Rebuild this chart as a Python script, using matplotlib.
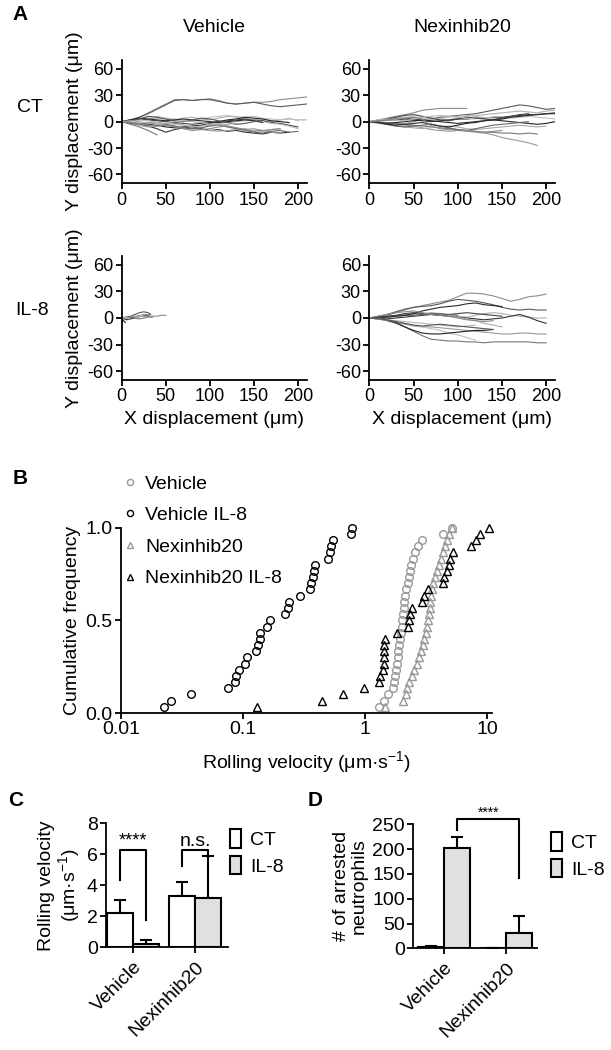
import matplotlib
matplotlib.use("Agg")
import matplotlib.pyplot as plt
import numpy as np
from matplotlib.patches import Patch

plt.rcParams['font.family'] = ['Liberation Sans', 'DejaVu Sans']
plt.rcParams['mathtext.fontset'] = 'custom'
plt.rcParams['mathtext.rm'] = 'Liberation Sans'
plt.rcParams['mathtext.it'] = 'Liberation Sans:italic'
plt.rcParams['axes.unicode_minus'] = False

# ---- panel A: cell tracks, y displacement sampled every 10 um of x ----
x_grid = [0, 10, 20, 30, 40, 50, 60, 70, 80, 90, 100,
          110, 120, 130, 140, 150, 160, 170, 180, 190, 200, 210]

veh_ct = [
    [0, 2, 5, 10, 15, 20, 25, 25, 24, 25, 26, 24, 21, 20, 21, 22, 22, 23, 25, 26, 27, 28],
    [0, 2, 5, 9, 14, 19, 24, 25, 24, 25, 25, 23, 21, 20, 21, 22, 20, 18, 17, 18, 19, 20],
    [0, 1, 2, 3, 4, 3, 2, 4, 5, 3, 2, 4, 6, 5, 3, 2, 1, 0, 2, 3, 2, 2],
    [0, -1, -3, -5, -8, -12, -9, -7, -6, -8, -10, -9, -11, -10, -12, -13, -14, -12, -13, -12],
    [0, -2, -4, -6, -5, -3, -2, -4, -6, -5, -4, -3, -5, -7, -9, -8, -10, -12, -13],
    [0, -3, -6, -10, -15],
    [0, 1, 3, 5, 6, 4, 3, 2, 1, 3, 5, 6, 7, 6, 5, 6, 4, 3, 2, 4, 1],
    [0, -1, -2, -3, -4, -6, -7, -6, -5, -4, -2, 0, 2, 3, 5, 4, 3, 1, 0, -1],
    [0, -1, -2, -1, -3, -4, -5, -7, -8, -9, -10, -11, -10, -9, -8, -10, -11, -9, -8],
    [0, 2, 3, 2, 1, 0, -1, -2, -3, -2, -1, 0, 1, 2, 3, 2, 1, -1, -2, -4, -6],
    [0, -2, -3, -2, -1, -3, -5, -7, -8, -7, -5, -4, -6, -8, -10, -12, -13, -11, -10, -12, -11],
    [0, 1, 2, 1, -1, -2, -3, -4, -6, -5, -3, -2, -1, 0, 1, 2, 0, -2, -3, -5, -8],
    [0, 2, 4, 3, 2, 1, 2, 3, 2, 1, 0, -1, 0, 1, 2, 1, -1],
    [0, -1, -3, -4, -5, -4, -6, -8, -10, -9, -8, -6, -5, -7, -9, -11, -10, -9, -8],
    [0, 1, 3, 6, 5, 3, 1, 0, 2, 4, 3, 1, -1, -3, -2, 0, 2],
    [0, 1, 0, -2, -3, -2, 0, 1, 0, -1, -3, -4, -3, -2],
]

nex_ct = [
    [0, 2, 4, 6, 8, 10, 13, 14, 15, 15, 15, 15],
    [0, 1, 2, 3, 4, 3, 2, 3, 5, 6, 7, 8, 9, 11, 13, 15, 17, 19, 18, 16, 14, 15],
    [0, -1, -2, -3, -2, 0, 2, 4, 3, 2, 4, 6, 7, 8, 9, 10, 11, 12, 11, 10, 12, 13],
    [0, 1, 2, 2, 3, 2, 1, 0, 1, 2, 3, 3, 4, 4, 5, 5, 6, 7, 8, 8, 9, 9],
    [0, -1, -2, -3, -4, -5, -7, -9, -10, -11, -10, -11, -12, -13, -15, -18, -20, -22, -24, -27],
    [0, 0, -1, -2, -3, -4, -5, -6, -7, -8, -9, -10, -11, -12, -12, -13, -13, -14, -13, -14],
    [0, 1, 2, 4, 5, 6, 4, 2, 3, 5, 6, 7, 6, 5, 4, 3, 4, 5, 6, 5, 4, 3],
    [0, -1, -2, -1, 0, 1, 2, 1, 0, -1, -2, -1, 0, 1, 2, 1, 0, -1, -2, -3, -2, 0],
    [0, -2, -3, -5, -6, -7, -8, -7, -6, -5, -6, -8, -9, -8, -7, -6, -5, -4, -5, -6, -5],
    [0, 1, 3, 5, 7, 8, 6, 4, 2, 1, 3, 5, 4, 3, 2, 4, 6, 8, 9],
    [0, -1, -3, -5, -6, -5, -4, -3, -5, -7, -9, -10, -8, -6, -4, -3, -2, -1, 0],
    [0, 2, 3, 2, 1, 3, 5, 6, 7, 6, 5, 4, 3],
    [0, -1, -3, -4, -3, -2, -1, -3, -5, -6, -4, -2, -1, 1, 2, 3, 5, 6, 7, 8, 9, 10],
    [0, 1, 2, 3, 4, 5, 3, -5, -8, -9, -10, -10, -11, -12, -11, -10],
]

# vehicle + IL-8 cells barely move: short tracks with their own x values
veh_il8_x = [
    [0, 5, 10, 15, 20, 25, 30, 35, 40, 45, 50],
    [0, 5, 10, 15, 20, 25, 30, 33, 30, 25],
    [0, 4, 8, 12, 16, 20],
    [0, 3, 6, 10, 14],
    [0, 5, 10, 15, 20, 25, 30],
    [0, 5, 10, 15, 20, 25, 30, 35],
    [0, 3, 6, 9],
    [0, 2, 4],
]
veh_il8_y = [
    [0, 0, 1, 1, 2, 2, 2, 2, 2, 3, 3],
    [0, 1, 2, 4, 6, 7, 6, 4, 3, 3],
    [0, -1, -1, 0, 0, 1],
    [0, -1, -2, -1, 0],
    [0, 0, 1, 2, 3, 4, 4],
    [0, 1, 1, 0, -1, 0, 1, 1],
    [0, 1, 0, -1],
    [0, -3, -5],
]

nex_il8 = [
    [0, 1, 3, 6, 9, 12, 14, 16, 18, 20, 24, 28, 28, 27, 25, 22, 19, 21, 24, 25, 27],
    [0, 2, 4, 7, 10, 12, 13, 14, 16, 19, 21, 20, 19, 17, 15, 12, 10, 9, 10, 9, 9],
    [0, 1, 2, 2, 3, 4, 5, 5, 4, 3, 2, 1, 3, 5, 6, 5, 3, 2, 1, 0, 0],
    [0, -1, -1, 0, 1, 2, 3, 4, 3, 2, 1, 0, -1, -2, -1, 0, 2, 4, 1, -3, -6],
    [0, -1, -3, -5, -7, -9, -10, -10, -11, -12, -13, -14, -15, -16, -17, -18, -18, -17, -17, -18, -18],
    [0, -1, -3, -6, -10, -15, -20, -24, -25, -26, -26, -27, -27, -28, -27, -27, -27, -27, -27, -28, -28],
    [0, -1, -2, -4, -6, -8, -10, -12, -14, -17, -19, -22, -25],
    [0, 0, -2, -5, -10, -14, -17, -18, -18, -17, -16, -15, -14, -14, -13],
    [0, 1, 2, 3, 4, 4, 5, 6, 5, 3, 1, -1, -3, -6, -8, -10],
    [0, 1, 2, 3, 5, 6, 5, 4, 3, 4, 5, 6, 5, 4, 3, 2],
    [0, 0, 1, 2, 3, 3, 4, 5, 5, 4, 3],
    [0, -1, -2, -3, -4, -5, -6, -7, -8, -9, -10, -9, -8],
    [0, 1, 1, 2, 3, 5, 8, 10, 12, 13, 14, 16, 17, 15, 14, 13],
    [0, 2, 4, 6, 7, 8, 6, 4, 3, 2, 0, -2, -3, -4, -3],
    [0, -1, -2, -4, -6, -8, -9, -8, -7, -8, -9, -10, -11, -12, -13],
]

track_greys = ['#8c8c8c', '#5a5a5a', '#b0b0b0', '#333333', '#9a9a9a', '#777777',
               '#c0c0c0', '#222222', '#a8a8a8', '#444444', '#666666', '#b8b8b8',
               '#2a2a2a', '#888888', '#555555', '#aaaaaa']

# ---- panel B: rolling velocities (um/s) ----
vel_vehicle = [1.31, 1.43, 1.55, 1.71, 1.74, 1.77, 1.79, 1.82, 1.86, 1.88,
               1.90, 1.95, 1.97, 2.00, 2.03, 2.05, 2.08, 2.10, 2.14, 2.18,
               2.24, 2.29, 2.33, 2.40, 2.46, 2.55, 2.70, 2.92, 4.33, 5.14]
vel_vehicle_il8 = [0.0227, 0.0255, 0.0377, 0.075, 0.086, 0.087, 0.092, 0.103, 0.108, 0.128,
                   0.132, 0.138, 0.138, 0.156, 0.167, 0.221, 0.232, 0.239, 0.295, 0.354,
                   0.36, 0.375, 0.38, 0.39, 0.50, 0.52, 0.53, 0.55, 0.77, 0.79]
vel_nex = [1.45, 2.06, 2.15, 2.21, 2.31, 2.43, 2.54, 2.65, 2.79, 2.88,
           2.97, 3.06, 3.16, 3.24, 3.31, 3.35, 3.39, 3.43, 3.48, 3.54,
           3.63, 3.77, 3.92, 4.07, 4.23, 4.39, 4.55, 4.73, 4.91, 5.16]
vel_nex_il8 = [0.131, 0.447, 0.66, 0.98, 1.30, 1.34, 1.40, 1.42, 1.43, 1.44,
               1.44, 1.45, 1.82, 2.24, 2.28, 2.34, 2.45, 2.93, 3.05, 3.30,
               4.33, 4.47, 4.68, 4.85, 4.98, 5.30, 7.4, 8.1, 8.8, 10.3]

# ---- panels C and D: bar charts (mean + SD) ----
groups = ['Vehicle', 'Nexinhib20']
roll_ct = [2.2, 3.3]
roll_ct_err = [0.85, 0.9]
roll_il8 = [0.2, 3.2]
roll_il8_err = [0.27, 2.7]
arrest_ct = [3, 1]
arrest_ct_err = [2, 0.5]
arrest_il8 = [202, 31]
arrest_il8_err = [23, 34]

W, H = 611, 1050
fig = plt.figure(figsize=(W / 100, H / 100), dpi=100)


def rect(l, t, r, b):
    return [l / W, 1 - b / H, (r - l) / W, (b - t) / H]


def prism(ax, fs=13):
    for s in ['top', 'right']:
        ax.spines[s].set_visible(False)
    for s in ['left', 'bottom']:
        ax.spines[s].set_linewidth(1.3)
    ax.tick_params(direction='out', length=4, width=1.3, labelsize=fs, pad=2)


def tracks_panel(r, ys_list, xs_list=None):
    ax = fig.add_axes(r)
    for i, ys in enumerate(ys_list):
        xs = xs_list[i] if xs_list else x_grid[:len(ys)]
        ax.plot(xs, ys, color=track_greys[i % len(track_greys)], lw=0.8)
    ax.set_xlim(0, 210)
    ax.set_ylim(-70, 70)
    ax.set_xticks([0, 50, 100, 150, 200])
    ax.set_yticks([-60, -30, 0, 30, 60])
    prism(ax)
    return ax


ylab_a = 'Y displacement (μm)'
xlab_a = 'X displacement (μm)'

a1 = tracks_panel(rect(121.7, 60, 306.7, 183.3), veh_ct)
a1.set_title('Vehicle', fontsize=14, pad=20)
a1.set_ylabel(ylab_a, fontsize=14, labelpad=3)
a2 = tracks_panel(rect(369.3, 60, 555, 183.3), nex_ct)
a2.set_title('Nexinhib20', fontsize=14, pad=20)
a3 = tracks_panel(rect(121.7, 256, 306.7, 380), veh_il8_y, veh_il8_x)
a3.set_ylabel(ylab_a, fontsize=14, labelpad=3)
a3.set_xlabel(xlab_a, fontsize=14, labelpad=4)
a4 = tracks_panel(rect(369.3, 256, 555, 380), nex_il8)
a4.set_xlabel(xlab_a, fontsize=14, labelpad=4)

fig.text(30 / W, 1 - 108 / H, 'CT', fontsize=14, ha='center', va='center')
fig.text(32 / W, 1 - 311 / H, 'IL-8', fontsize=14, ha='center', va='center')

# ---- B ----
axb = fig.add_axes(rect(121, 527.7, 492, 713))
series_b = [
    (vel_vehicle, 'o', '#999999', 'Vehicle'),
    (vel_vehicle_il8, 'o', 'black', 'Vehicle IL-8'),
    (vel_nex, '^', '#999999', 'Nexinhib20'),
    (vel_nex_il8, '^', 'black', 'Nexinhib20 IL-8'),
]
for vals, mk, col, lab in series_b:
    v = np.sort(vals)
    cum = np.arange(1, len(v) + 1) / len(v)
    axb.plot(v, cum, ls='none', marker=mk, ms=5.5, mfc='none', mec=col, mew=1.0,
             clip_on=False, label=lab)
axb.set_xscale('log')
axb.set_xlim(0.01, 11)
axb.set_ylim(0, 1.0)
axb.set_xticks([0.01, 0.1, 1, 10])
axb.set_xticklabels(['0.01', '0.1', '1', '10'])
axb.xaxis.set_minor_locator(matplotlib.ticker.NullLocator())
axb.set_yticks([0, 0.5, 1.0])
axb.set_yticklabels(['0.0', '0.5', '1.0'])
prism(axb, 14)
axb.set_ylabel('Cumulative frequency', fontsize=14, labelpad=3)
axb.set_xlabel('Rolling velocity (μm·s$^{-1}$)', fontsize=14, labelpad=8)
axb.legend(loc='upper left', bbox_to_anchor=(124 / W, 1 - 475 / H),
           bbox_transform=fig.transFigure, frameon=False, fontsize=14,
           handlelength=0.6, handletextpad=0.5, labelspacing=0.72,
           borderpad=0, borderaxespad=0, markerscale=0.8)

# ---- C and D ----
w = 0.42
xpos = np.arange(len(groups))
il8_fill = '#e0e0e0'


def bar_panel(r, ct, ct_err, il8, il8_err, yticks, xlim, leg_xy):
    ax = fig.add_axes(r)
    ax.bar(xpos - w / 2, ct, w, color='white', edgecolor='black', lw=1.5, zorder=2)
    ax.bar(xpos + w / 2, il8, w, color=il8_fill, edgecolor='black', lw=1.5, zorder=2)
    ax.errorbar(xpos - w / 2, ct, yerr=[np.zeros(len(ct)), ct_err], fmt='none',
                ecolor='black', elinewidth=1.5, capsize=4, capthick=1.5, zorder=1)
    ax.errorbar(xpos + w / 2, il8, yerr=[np.zeros(len(il8)), il8_err], fmt='none',
                ecolor='black', elinewidth=1.5, capsize=4, capthick=1.5, zorder=1)
    ax.set_xlim(*xlim)
    ax.set_ylim(yticks[0], yticks[-1])
    ax.set_yticks(yticks)
    ax.set_xticks(xpos)
    ax.set_xticklabels(groups, rotation=45, ha='right', rotation_mode='anchor')
    prism(ax, 14)
    ax.tick_params(axis='x', pad=4)
    ax.legend(handles=[Patch(facecolor='white', edgecolor='black', lw=1.5, label='CT'),
                       Patch(facecolor=il8_fill, edgecolor='black', lw=1.5, label='IL-8')],
              loc='upper left', bbox_to_anchor=(leg_xy[0] / W, 1 - leg_xy[1] / H),
              bbox_transform=fig.transFigure, frameon=False, fontsize=14,
              handlelength=0.55, handleheight=1.1, handletextpad=0.5, labelspacing=0.35,
              borderpad=0, borderaxespad=0)
    return ax


def bracket(ax, x1, x2, y1, y2, top, text, fs):
    ax.plot([x1, x1, x2, x2], [y1, top, top, y2], color='black', lw=1.5, clip_on=False)
    ax.text((x1 + x2) / 2, top, text, ha='center', va='bottom', fontsize=fs)


axc = bar_panel(rect(106, 823.3, 228, 947.3), roll_ct, roll_ct_err, roll_il8, roll_il8_err,
                [0, 2, 4, 6, 8], (-0.44, 1.53), (230, 829))
axc.set_ylabel('Rolling velocity\n(μm·s$^{-1}$)', fontsize=14, labelpad=3, linespacing=1.1)
bracket(axc, -w / 2, w / 2, 4.35, 1.76, 6.3, '****', 13)
bracket(axc, 1 - w / 2, 1 + w / 2, 5.25, 6.05, 6.3, 'n.s.', 14)

axd = bar_panel(rect(413.3, 824.3, 537.3, 948.3), arrest_ct, arrest_ct_err, arrest_il8,
                arrest_il8_err, [0, 50, 100, 150, 200, 250], (-0.5, 1.5), (551, 832))
axd.set_ylabel('# of arrested\nneutrophils', fontsize=14, labelpad=3, linespacing=1.1)
bracket(axd, w / 2, 1 + w / 2, 238, 141, 260, '****', 10)

for lab, px, py in [('A', 20, 14), ('B', 20, 478), ('C', 16, 800), ('D', 315, 800)]:
    fig.text(px / W, 1 - py / H, lab, fontsize=15, fontweight='bold', ha='center', va='center')

fig.savefig('out.png', dpi=100, facecolor='white')
